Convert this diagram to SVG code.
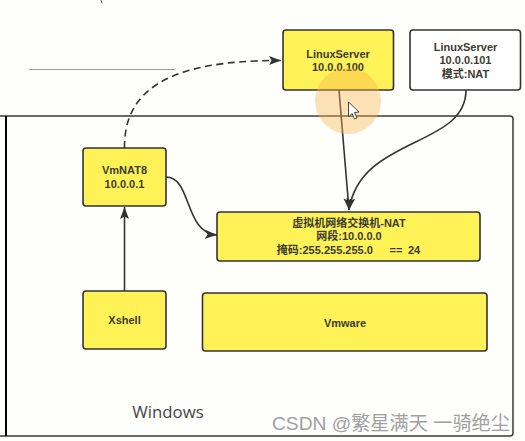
<svg xmlns="http://www.w3.org/2000/svg" width="525" height="441" viewBox="0 0 525 441">
<style>
.box{fill:#fff257;stroke:#333;stroke-width:1.6}
.t{font-family:"Liberation Sans","Noto Sans CJK SC",sans-serif;font-size:11px;font-weight:bold;fill:#3c3c32;text-anchor:middle}
.c{fill:none;stroke:#333;stroke-width:1.6}
</style>
<defs>
<marker id="a" markerUnits="userSpaceOnUse" markerWidth="13" markerHeight="10" refX="12" refY="5" orient="auto"><path d="M0 .5L12 5L0 9.500L2.500 5Z" fill="#333"/></marker>
</defs>
<rect width="525" height="441" fill="#fefefd"/>
<path d="M101 0L102 3" stroke="#555" fill="none"/>
<path d="M29 69.500H175" stroke="#999" stroke-width="1" fill="none"/>
<g id="frame">
<path d="M0 116H510Q513 116 513 119V433Q513 436 510 436H0" fill="none" stroke="#3a3a3a" stroke-width="1.500"/>
<path d="M6 116V436" stroke="#000" stroke-width="2" fill="none"/>
<text x="168" y="418" style="font-family:'Open Sans','Liberation Sans',sans-serif;font-size:16.800px;fill:#444;text-anchor:middle">Windows</text>
</g>
<g id="connectors">
<path class="c" d="M124.500 148C124 92 165 60 281 60.500" stroke-dasharray="7 4.500" marker-end="url(#a)"/>
<path class="c" d="M339 90L349 210" marker-end="url(#a)"/>
<path class="c" d="M466 90C466 148 360 136 349 210" marker-end="url(#a)"/>
<path class="c" d="M166 177C192 177 184 233 217 235" marker-end="url(#a)"/>
<path class="c" d="M124.500 291V207" marker-end="url(#a)"/>
</g>
<g id="linuxserver-100">
<rect class="box" x="283" y="30" width="110.500" height="60" rx="3"/>
<text class="t" x="338" y="58">LinuxServer</text>
<text class="t" x="338" y="71">10.0.0.100</text>
</g>
<g id="linuxserver-101">
<rect x="410" y="30" width="110.500" height="60" rx="3" fill="#fff" stroke="#333" stroke-width="1.600"/>
<text class="t" x="465.500" y="51">LinuxServer</text>
<text class="t" x="465.500" y="64">10.0.0.101</text>
<text class="t" x="465.500" y="78">模式:NAT</text>
</g>
<g id="vmnat8">
<rect class="box" x="83" y="148" width="83" height="58" rx="3"/>
<text class="t" x="124.500" y="174">VmNAT8</text>
<text class="t" x="124.500" y="188">10.0.0.1</text>
</g>
<g id="switch">
<rect class="box" x="217" y="212" width="263" height="49" rx="3"/>
<text class="t" x="349" y="227">虚拟机网络交换机-NAT</text>
<text class="t" x="349" y="240">网段:10.0.0.0</text>
<text class="t" x="348.500" y="254" word-spacing="2.500" xml:space="preserve">掩码:255.255.255.0   == 24</text>
</g>
<g id="xshell">
<rect class="box" x="83" y="291" width="83" height="58" rx="3"/>
<text class="t" x="124.500" y="324">Xshell</text>
</g>
<g id="vmware">
<rect class="box" x="202.500" y="293" width="284.500" height="58" rx="3"/>
<text class="t" x="345" y="327">Vmware</text>
</g>
<circle cx="348" cy="101" r="33" fill="#f9b44a" fill-opacity=".4"/>
<path d="M348.500 102V117L352 113.500L354.500 119L357 118L354.500 112.500L359 112Z" fill="#fff" stroke="#444" stroke-width="1"/>
<text x="391" y="430" style="font-family:'Liberation Sans','Noto Sans CJK SC',sans-serif;font-size:19.200px;fill:#a0a0a0;text-anchor:middle">CSDN @繁星满天 一骑绝尘</text>
</svg>
